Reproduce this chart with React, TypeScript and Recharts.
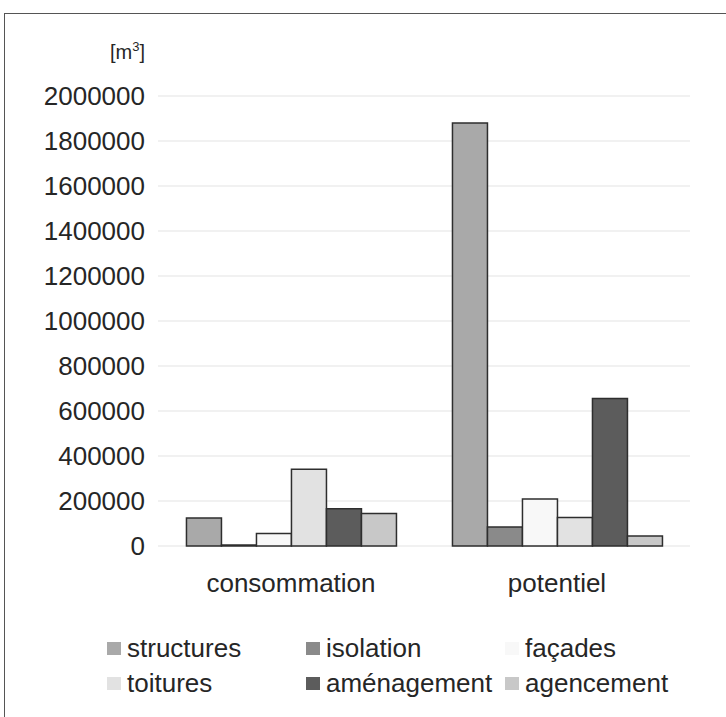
import { BarChart, Bar, XAxis, YAxis, CartesianGrid } from 'recharts';

// categories and series (m3)
const categories = ['consommation', 'potentiel'];
const structures = [125000, 1880000];
const isolation = [5000, 84000];
const facades = [56000, 209000];
const toitures = [341000, 127000];
const amenagement = [166000, 656000];
const agencement = [144000, 44000];
const yTicks = [0, 200000, 400000, 600000, 800000, 1000000, 1200000, 1400000, 1600000, 1800000, 2000000];

const series = [
    { key: 'structures', label: 'structures', values: structures, color: '#a9a9a9' },
    { key: 'isolation', label: 'isolation', values: isolation, color: '#8a8a8a' },
    { key: 'facades', label: 'façades', values: facades, color: '#f8f8f8' },
    { key: 'toitures', label: 'toitures', values: toitures, color: '#e2e2e2' },
    { key: 'amenagement', label: 'aménagement', values: amenagement, color: '#5c5c5c' },
    { key: 'agencement', label: 'agencement', values: agencement, color: '#c8c8c8' },
];

const data = categories.map((name, i) => {
    const row: Record<string, string | number> = { name };
    series.forEach((s) => { row[s.key] = s.values[i]; });
    return row;
});

const font = '"Liberation Sans", Arial, sans-serif';
const textColor = '#262626';

export default function App() {
    return (
        <div style={{ position: 'fixed', left: 0, top: 0, width: 726, height: 717, overflow: 'hidden', background: '#fff', fontFamily: font }}>
            {/* scanned frame: left and top edges only are visible */}
            <div style={{ position: 'absolute', left: 4, top: 13, width: 760, height: 760, border: '1.5px solid #555' }} />

            <div style={{ position: 'absolute', right: 726 - 145, top: 40, fontSize: 20, color: textColor, lineHeight: '24px' }}>
                [m<sup style={{ fontSize: 13, lineHeight: 0 }}>3</sup>]
            </div>

            <div style={{ position: 'absolute', left: 0, top: 0 }}>
                <BarChart
                    width={726}
                    height={717}
                    data={data}
                    margin={{ top: 96, right: 36, left: 0, bottom: 141 }}
                    barCategoryGap="10.7%"
                    barGap={0}
                >
                    <CartesianGrid vertical={false} stroke="#e3e3e3" strokeWidth={1.2} />
                    <XAxis
                        dataKey="name"
                        height={30}
                        axisLine={false}
                        tickLine={false}
                        tickSize={0}
                        tickMargin={28}
                        tick={{ fill: textColor, fontSize: 26, fontFamily: font }}
                    />
                    <YAxis
                        width={158}
                        domain={[0, 2000000]}
                        ticks={yTicks}
                        axisLine={false}
                        tickLine={false}
                        tickSize={0}
                        tickMargin={13}
                        tickFormatter={(v: number) => String(v)}
                        tick={{ fill: textColor, fontSize: 26, fontFamily: font }}
                    />
                    {series.map((s) => (
                        <Bar
                            key={s.key}
                            dataKey={s.key}
                            name={s.label}
                            fill={s.color}
                            stroke="#2e2e2e"
                            strokeWidth={1.5}
                            isAnimationActive={false}
                        />
                    ))}
                </BarChart>
            </div>

            {/* legend, 3 columns x 2 rows */}
            {series.map((s, i) => {
                const col = i % 3;
                const row = Math.floor(i / 3);
                return (
                    <div
                        key={s.key}
                        style={{
                            position: 'absolute',
                            left: 107 + col * 199,
                            top: 631 + row * 35,
                            height: 34,
                            display: 'flex',
                            alignItems: 'center',
                            fontSize: 26,
                            color: textColor,
                            whiteSpace: 'nowrap',
                        }}
                    >
                        <span style={{ display: 'inline-block', width: 14, height: 13, background: s.color, marginRight: 6 }} />
                        {s.label}
                    </div>
                );
            })}
        </div>
    );
}
